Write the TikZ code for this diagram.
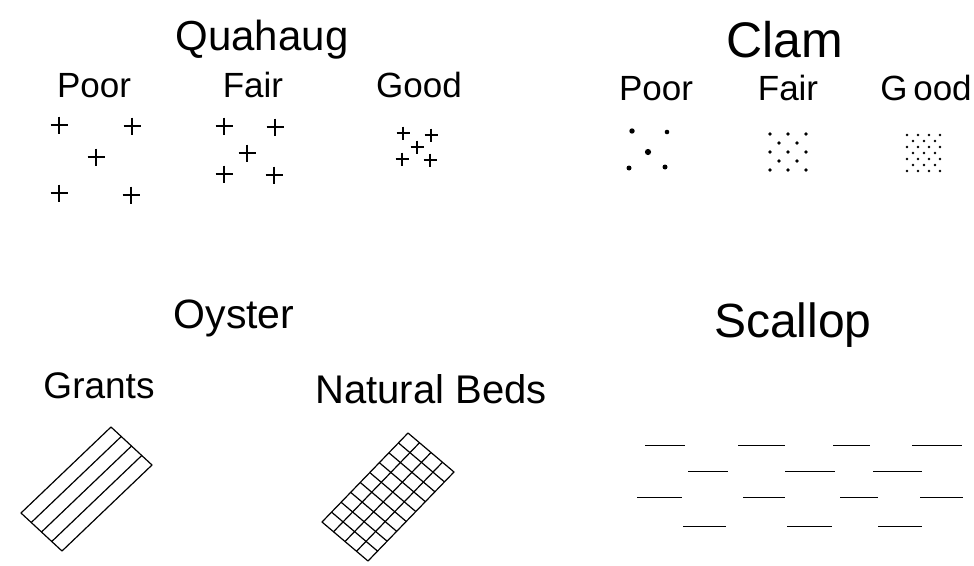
\documentclass[tikz,border=0pt]{standalone}
\usepackage{fontspec}
\setmainfont{Liberation Sans}
\usetikzlibrary{calc}
\tikzset{
  lbl/.style={anchor=base, inner sep=0pt},
  plusline/.style={line width=1.1pt},
  hatch/.style={line width=1.2pt, line join=round},
  dashline/.style={line width=1pt},
}
\newcommand{\plusmark}[3]{\draw[plusline] (#1-#3,#2) -- (#1+#3,#2) (#1,#2-#3) -- (#1,#2+#3);}
\begin{document}
\begin{tikzpicture}[x=1pt,y=-1pt]
\path[use as bounding box, fill=white] (0,0) rectangle (974,565);

% ---- Quahaug ----
\node[lbl, font=\fontsize{42}{44}\selectfont] (quahaug) at (262,50) {Quahaug};
\node[lbl, font=\fontsize{35}{38}\selectfont] (qpoor) at (94,97) {Poor};
\node[lbl, font=\fontsize{35}{38}\selectfont] (qfair) at (253,97) {Fair};
\node[lbl, font=\fontsize{35}{38}\selectfont] (qgood) at (419,97) {Good};
\foreach \x/\y in {59/125,132/126,96/157,59/193,131/195}{\plusmark{\x}{\y}{8.5}}
\foreach \x/\y in {224/126,275/127,247/153,224/174,274/175}{\plusmark{\x}{\y}{8.5}}
\foreach \x/\y in {403/133,431/135,417/147,402/159,430/160}{\plusmark{\x}{\y}{6.5}}

% ---- Clam ----
\node[lbl, font=\fontsize{50}{52}\selectfont] (clam) at (785,57) {Clam};
\node[lbl, font=\fontsize{35}{38}\selectfont] (cpoor) at (656,100) {Poor};
\node[lbl, font=\fontsize{35}{38}\selectfont] (cfair) at (788,100) {Fair};
\node[lbl, font=\fontsize{35}{38}\selectfont] (cgood) at (926,100) {G\,ood};
\foreach \x/\y/\r in {632/131/2.7,667/132/2.3,648/152/3.1,629/168/2.5,665/167/2.5}{\fill (\x,\y) circle (\r);}
\foreach \y in {134,152,170}{\foreach \x in {770,788,806}{\fill (\x,\y) circle (1.9);}}
\foreach \y in {143,161}{\foreach \x in {779,797}{\fill (\x,\y) circle (1.9);}}
\foreach \y in {135,147,159,171}{\foreach \x in {907,918,929,940}{\fill (\x,\y) circle (1.4);}}
\foreach \y in {141,153,165}{\foreach \x in {913,924,935}{\fill (\x,\y) circle (1.3);}}

% ---- Oyster ----
\node[lbl, font=\fontsize{41}{43}\selectfont] (oyster) at (234,328) {Oyster};
\node[lbl, font=\fontsize{37}{40}\selectfont] (grants) at (99,398) {Grants};
\node[lbl, font=\fontsize{40}{42}\selectfont] (natural) at (431,403) {Natural Beds};

% Grants: striped rectangle
\coordinate (gT) at (111,427);
\coordinate (gR) at (152,465);
\coordinate (gL) at (21,513);
\coordinate (gB) at ($(gR)+(gL)-(gT)$);
\draw[hatch] (gT) -- (gR) -- (gB) -- (gL) -- cycle;
\foreach \k in {1,2,3}{
  \draw[hatch] ($(gT)!\k/4!(gR)$) -- ($(gL)!\k/4!(gB)$);
}

% Natural Beds: gridded rectangle
\coordinate (nT) at (408,433);
\coordinate (nR) at (454,472);
\coordinate (nL) at (322,522);
\coordinate (nB) at ($(nR)+(nL)-(nT)$);
\draw[hatch] (nT) -- (nR) -- (nB) -- (nL) -- cycle;
\foreach \k in {1,2,3}{
  \draw[hatch] ($(nT)!\k/4!(nR)$) -- ($(nL)!\k/4!(nB)$);
}
\foreach \k in {1,...,8}{
  \draw[hatch] ($(nT)!\k/9!(nL)$) -- ($(nR)!\k/9!(nB)$);
}

% ---- Scallop ----
\node[lbl, font=\fontsize{48}{50}\selectfont] (scallop) at (793,337) {Scallop};
\foreach \a/\b in {645/685,738/785,833/870,912/962}{\draw[dashline] (\a,445) -- (\b,445);}
\foreach \a/\b in {688/728,785/835,873/922}{\draw[dashline] (\a,471) -- (\b,471);}
\foreach \a/\b in {637/682,743/785,840/878,920/963}{\draw[dashline] (\a,497) -- (\b,497);}
\foreach \a/\b in {683/726,787/832,878/922}{\draw[dashline] (\a,526) -- (\b,526);}
\end{tikzpicture}
\end{document}
